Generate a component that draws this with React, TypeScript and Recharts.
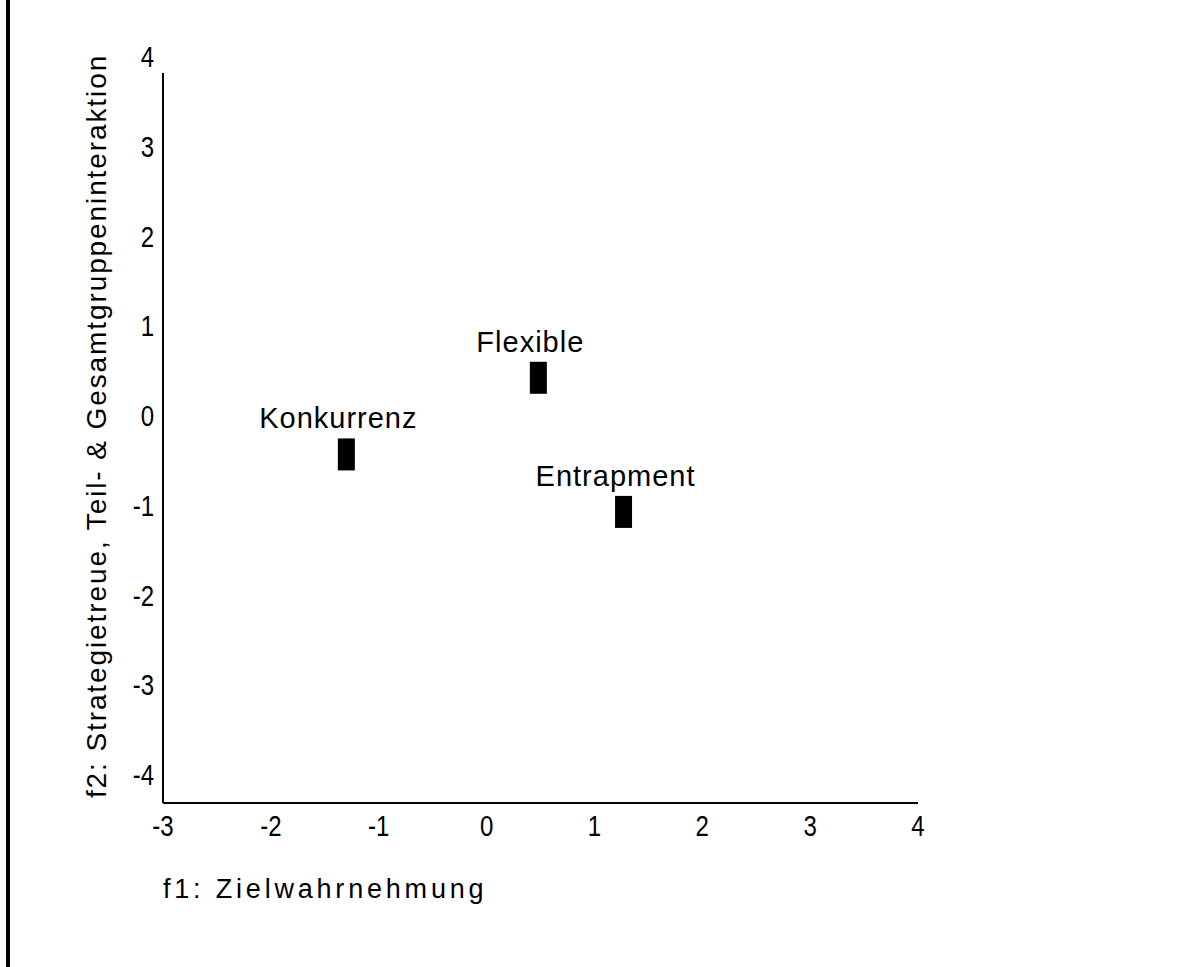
import { ScatterChart, Scatter, XAxis, YAxis } from 'recharts'

// Gruppen und ihre Lage auf den beiden Faktoren
const groups = ['Konkurrenz', 'Flexible', 'Entrapment']
const f1Values = [-1.3, 0.48, 1.27]
const f2Values = [-0.18, 0.66, -0.81]

const xTicks = [-3, -2, -1, 0, 1, 2, 3, 4]
const yTicks = [-4, -3, -2, -1, 0, 1, 2, 3, 4]

const xTitle = 'f1: Zielwahrnehmung'
const yTitle = 'f2: Strategietreue, Teil- & Gesamtgruppeninteraktion'

const data = groups.map((name, i) => ({ name, f1: f1Values[i], f2: f2Values[i] }))

const textFont = '"Liberation Sans", Arial, sans-serif'

// narrow digits like the original: Liberation Sans squeezed horizontally
const TickText = ({ x, y, anchor, value }: { x: number; y: number; anchor: string; value: number }) => (
  <text
    transform={`translate(${x}, ${y}) scale(0.8, 1)`}
    textAnchor={anchor}
    fontFamily={textFont}
    fontSize={30}
    fill="#000"
  >
    {value}
  </text>
)

const XTick = (props: any) => {
  const { x, y, payload } = props
  return <TickText x={x} y={y + 21} anchor="middle" value={payload.value} />
}

const YTick = (props: any) => {
  const { x, y, payload } = props
  // labels sit a bit above their grid value in the original
  const shift = -29 + 1.5 * (payload.value + 4)
  return <TickText x={x} y={y + shift + 11} anchor="end" value={payload.value} />
}

const Marker = (props: any) => {
  const { cx, cy, payload } = props
  return (
    <g>
      <rect x={cx - 8.5} y={cy - 16} width={17} height={32} fill="#000" />
      <text
        x={cx - 8}
        y={cy - 26}
        textAnchor="middle"
        fontFamily={textFont}
        fontSize={29}
        letterSpacing={1}
        fill="#000"
      >
        {payload.name}
      </text>
    </g>
  )
}

export default function App() {
  return (
    <div style={{ position: 'absolute', left: 0, top: 0, width: 1184, height: 967, background: '#fff' }}>
      <div style={{ position: 'absolute', left: 6, top: 0, width: 4, height: 967, background: '#000' }} />
      <div style={{ position: 'absolute', left: 0, top: 0 }}>
        <ScatterChart
          width={1184}
          height={967}
          margin={{ top: 73, right: 266, bottom: 104, left: 103 }}
        >
          <XAxis
            type="number"
            dataKey="f1"
            domain={[-3, 4]}
            ticks={xTicks}
            interval={0}
            height={60}
            tickLine={false}
            tickSize={0}
            tickMargin={12}
            axisLine={{ stroke: '#000', strokeWidth: 2 }}
            tick={<XTick />}
          />
          <YAxis
            type="number"
            dataKey="f2"
            domain={[-4, 4]}
            ticks={yTicks}
            interval={0}
            width={60}
            tickLine={false}
            tickSize={0}
            tickMargin={9}
            axisLine={{ stroke: '#000', strokeWidth: 2 }}
            tick={<YTick />}
          />
          <Scatter data={data} shape={<Marker />} isAnimationActive={false} />
        </ScatterChart>
      </div>
      <svg
        width={1184}
        height={967}
        style={{ position: 'absolute', left: 0, top: 0, pointerEvents: 'none' }}
      >
        <text
          x={106}
          y={426}
          transform="rotate(-90, 106, 426)"
          textAnchor="middle"
          fontFamily={textFont}
          fontSize={28}
          letterSpacing={1.9}
          fill="#000"
        >
          {yTitle}
        </text>
        <text x={163} y={898} fontFamily={textFont} fontSize={27} letterSpacing={3.8} fill="#000">
          {xTitle}
        </text>
      </svg>
    </div>
  )
}
